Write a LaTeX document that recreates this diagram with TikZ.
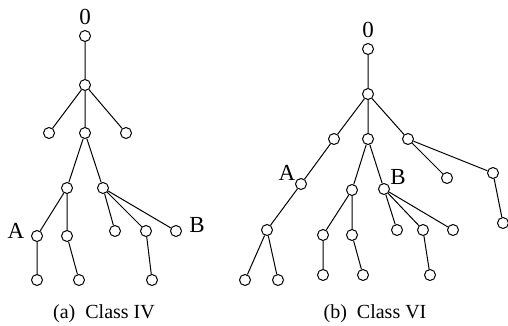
\documentclass[tikz,border=0pt]{standalone}
\usepackage{fontspec}
\setmainfont{Liberation Serif}
\begin{document}
\begin{tikzpicture}[x=1pt,y=-1pt,
  vtx/.style={circle,draw,line width=1pt,minimum size=11pt,inner sep=0pt},
  edge/.style={line width=1pt},
  lbl/.style={inner sep=0pt,font=\fontsize{23}{25}\selectfont},
  captxt/.style={inner sep=0pt,font=\fontsize{20}{24}\selectfont}]
\useasboundingbox (0,0) rectangle (508,326);

% ---- (a) Class IV ----
\node[vtx] (a0) at (85,36) {};
\node[vtx] (a1) at (85,85) {};
\node[vtx] (a2) at (49,133) {};
\node[vtx] (a3) at (85,133) {};
\node[vtx] (a4) at (126,133) {};
\node[vtx] (a5) at (67,188) {};
\node[vtx] (a6) at (103,188) {};
\node[vtx] (aA) at (37,236) {};
\node[vtx] (a7) at (67,236) {};
\node[vtx] (a8) at (115,231) {};
\node[vtx] (a9) at (146,231) {};
\node[vtx] (aB) at (176,231) {};
\node[vtx] (a10) at (37,280) {};
\node[vtx] (a11) at (79,280) {};
\node[vtx] (a12) at (152,280) {};
\node[lbl] (la0) at (85,17) {0};
\node[lbl] (laA) at (16,231) {A};
\node[lbl] (laB) at (197,225) {B};
\draw[edge] (a0)--(a1) (a1)--(a2) (a1)--(a3) (a1)--(a4)
  (a3)--(a5) (a3)--(a6) (a5)--(aA) (a5)--(a7)
  (a6)--(a8) (a6)--(a9) (a6)--(aB)
  (aA)--(a10) (a7)--(a11) (a9)--(a12);
\node[captxt] (capa) at (104,314) {(a)\enspace Class IV};

% ---- (b) Class VI ----
\node[vtx] (b0) at (368,49) {};
\node[vtx] (b1) at (368,94) {};
\node[vtx] (bA) at (334,139) {};
\node[vtx] (b2) at (368,139) {};
\node[vtx] (b3) at (408,139) {};
\node[vtx] (b4) at (301,184) {};
\node[vtx] (b5) at (352,190) {};
\node[vtx] (bB) at (384,189) {};
\node[vtx] (b6) at (447,178) {};
\node[vtx] (b7) at (493,173) {};
\node[vtx] (b8) at (503,223) {};
\node[vtx] (b9) at (267,230) {};
\node[vtx] (b10) at (245,280) {};
\node[vtx] (b11) at (278,280) {};
\node[vtx] (b12) at (323,235) {};
\node[vtx] (b13) at (352,235) {};
\node[vtx] (b14) at (323,275) {};
\node[vtx] (b15) at (363,275) {};
\node[vtx] (b16) at (397,230) {};
\node[vtx] (b17) at (423,230) {};
\node[vtx] (b18) at (453,230) {};
\node[vtx] (b19) at (430,275) {};
\node[lbl] (lb0) at (368,30) {0};
\node[lbl] (lbA) at (287,173) {A};
\node[lbl] (lbB) at (398,177) {B};
\draw[edge] (b0)--(b1) (b1)--(bA) (b1)--(b2) (b1)--(b3)
  (bA)--(b4) (b2)--(b5) (b2)--(bB) (b3)--(b6) (b3)--(b7) (b7)--(b8)
  (b4)--(b9) (b9)--(b10) (b9)--(b11)
  (b5)--(b12) (b5)--(b13) (b12)--(b14) (b13)--(b15)
  (bB)--(b16) (bB)--(b17) (bB)--(b18) (b17)--(b19);
\node[captxt] (capb) at (375,314) {(b)\enspace Class VI};
\end{tikzpicture}
\end{document}
